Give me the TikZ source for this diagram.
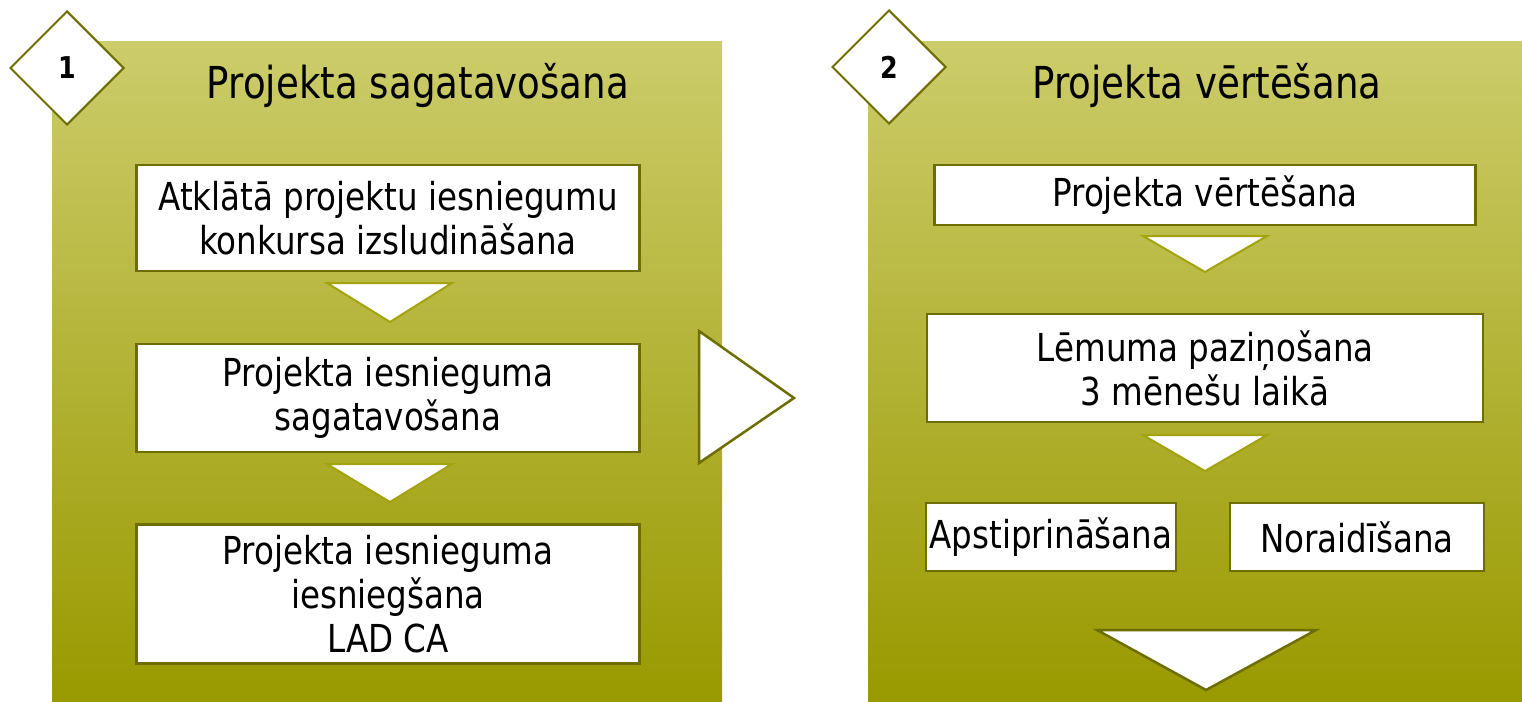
\documentclass[tikz,border=0pt]{standalone}
\usepackage{fontspec}
\setmainfont{DejaVu Sans}[FakeStretch=0.845]
\usetikzlibrary{positioning,shapes.geometric}
\definecolor{olivetop}{HTML}{CCCC6B}
\definecolor{olivebot}{HTML}{999900}
\definecolor{olivedark}{HTML}{6E6E00}
\definecolor{olivetri}{HTML}{A3A30F}
\tikzset{panel/.style={top color=olivetop,bottom color=olivebot,draw=none},
	 stepbox/.style={draw=olivedark,fill=white,line width=2.5pt,align=center,inner sep=0pt,
	   font=\fontsize{38.5}{44}\selectfont},
	 numbox/.style={diamond,draw=olivedark,fill=white,line width=2pt,inner sep=0pt,
	   minimum width=114pt,minimum height=114pt,font=\bfseries\fontsize{30}{34}\selectfont},
	 title/.style={font=\fontsize{44}{50}\selectfont},
	 downtri/.style={draw=olivetri,fill=white,line width=2pt},
	 bigtri/.style={draw=olivedark,fill=white,line width=2.5pt}
	 }
\begin{document}
\begin{tikzpicture}[x=1pt,y=-1pt] % two stages of the project
	\useasboundingbox (0,0) rectangle (1522,701);
	\shade[panel] (52,42) rectangle (722,701);
	\shade[panel] (868,42) rectangle (1522,701);
	% stage 1
	\node[numbox] (n1) at (67,68) {1};
	\node[title] (t1) at (418,85) {Projekta sagatavošana};
	\node[stepbox,minimum width=503pt,minimum height=106pt] (open) at (388,218)
	  {Atklātā projektu iesniegumu\\konkursa izsludināšana};
	\node[stepbox,minimum width=503pt,minimum height=108pt] (prep) at (388,398)
	  {Projekta iesnieguma\\sagatavošana};
	\node[stepbox,minimum width=503pt,minimum height=139pt] (submit) at (388,594)
	  {Projekta iesnieguma\\iesniegšana\\LAD CA};
	\draw[downtri] (327,283) -- (452,283) -- (390,322) -- cycle;
	\draw[downtri] (327,464) -- (452,464) -- (390,502) -- cycle;
	\draw[bigtri] (699,331) -- (794,398) -- (699,463) -- cycle;
	% stage 2
	\node[numbox] (n2) at (889,67) {2};
	\node[title] (t2) at (1207,85) {Projekta vērtēšana};
	\node[stepbox,minimum width=541pt,minimum height=60pt] (eval) at (1205,195)
	  {Projekta vērtēšana};
	\node[stepbox,minimum width=556pt,minimum height=108pt] (notify) at (1205,368)
	  {Lēmuma paziņošana\\3 mēnešu laikā};
	\node[stepbox,minimum width=250pt,minimum height=68pt] (yes) at (1051,537)
	  {Apstiprināšana};
	\node[stepbox,minimum width=254pt,minimum height=68pt] (no) at (1357,537)
	  {Noraidīšana};
	\draw[downtri] (1143,236) -- (1267,236) -- (1205,272) -- cycle;
	\draw[downtri] (1143,435) -- (1267,435) -- (1205,471) -- cycle;
	\draw[bigtri] (1097,630) -- (1316,630) -- (1206,690) -- cycle;
\end{tikzpicture}
\end{document}
